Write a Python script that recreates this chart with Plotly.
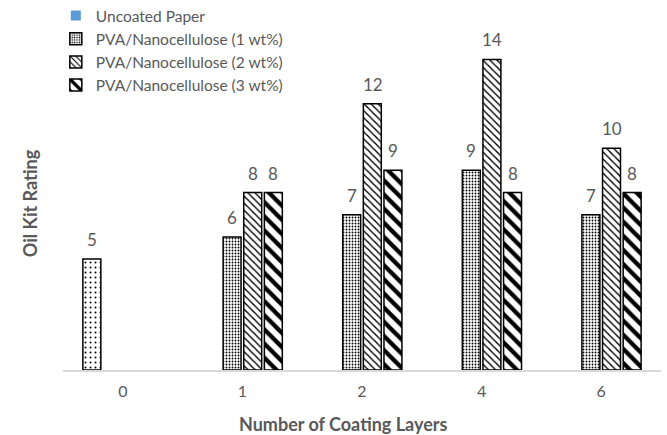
import plotly.graph_objects as go

categories = ["0", "1", "2", "4", "6"]
series_names = [
    "Uncoated Paper",
    "PVA/Nanocellulose (1 wt%)",
    "PVA/Nanocellulose (2 wt%)",
    "PVA/Nanocellulose (3 wt%)",
]
uncoated = [5, None, None, None, None]
pva_1wt = [None, 6, 7, 9, 7]
pva_2wt = [None, 8, 12, 14, 10]
pva_3wt = [None, 8, 9, 8, 8]

values = [uncoated, pva_1wt, pva_2wt, pva_3wt]
patterns = [
    dict(shape=".", size=5, solidity=0.12),
    dict(shape=".", size=3, solidity=0.3),
    dict(shape="\\", size=5, solidity=0.28),
    dict(shape="\\", size=10, solidity=0.42),
]
label_shift = [-31, -10.5, 10.5, 31]

FONT = "Lato, Open Sans, sans-serif"
GRAY = "#595959"

fig = go.Figure()

# legend-only entry for the uncoated series (blue marker as in the reference)
fig.add_trace(go.Scatter(
    x=[None], y=[None], mode="markers", name=series_names[0],
    marker=dict(symbol="square", size=10, color="#5B9BD5"),
    legendrank=1, hoverinfo="skip",
))

for i, (name, vals, pat) in enumerate(zip(series_names, values, patterns)):
    fig.add_trace(go.Bar(
        x=categories, y=vals, name=name,
        showlegend=(i > 0), legendrank=i + 1,
        marker=dict(
            color="white",
            line=dict(color="black", width=1.5),
            pattern=dict(fgcolor="black", bgcolor="white", fillmode="replace", **pat),
        ),
    ))
    for idx, v in enumerate(vals):
        if v is None:
            continue
        fig.add_annotation(
            x=idx, y=v, text=str(v), showarrow=False,
            xref="x", yref="y", yanchor="bottom",
            xshift=label_shift[i], yshift=7,
            font=dict(family=FONT, size=17, color=GRAY),
        )

fig.add_annotation(
    text="<b>Number of Coating Layers</b>", showarrow=False,
    xref="paper", yref="paper", x=0.468, y=-0.152,
    xanchor="center", yanchor="middle",
    font=dict(family=FONT, size=18, color=GRAY),
)
fig.add_annotation(
    text="<b>Oil Kit Rating</b>", showarrow=False, textangle=-90,
    xref="paper", yref="paper", x=-0.055, y=0.47,
    xanchor="center", yanchor="middle",
    font=dict(family=FONT, size=18, color=GRAY),
)

fig.update_layout(
    width=667, height=435,
    margin=dict(l=63, r=6, t=15, b=65, autoexpand=False),
    paper_bgcolor="white", plot_bgcolor="white",
    barmode="group", bargap=0.31, bargroupgap=0.13,
    font=dict(family=FONT, size=14, color=GRAY),
    legend=dict(
        x=-0.012, y=1.045, xanchor="left", yanchor="top",
        bgcolor="rgba(255,255,255,0)",
        font=dict(family=FONT, size=15.5, color=GRAY),
        itemwidth=30, tracegroupgap=0,
    ),
    xaxis=dict(
        type="category", range=[-0.5, 4.5],
        showgrid=False, zeroline=False,
        showline=True, linecolor="#d9d9d9", linewidth=1.5,
        ticks="", ticklabelstandoff=6,
        tickfont=dict(family=FONT, size=16, color=GRAY),
    ),
    yaxis=dict(
        range=[0, 16], showgrid=False, zeroline=False, showline=False,
        showticklabels=False, ticks="",
    ),
)

fig.write_html("out.html")
